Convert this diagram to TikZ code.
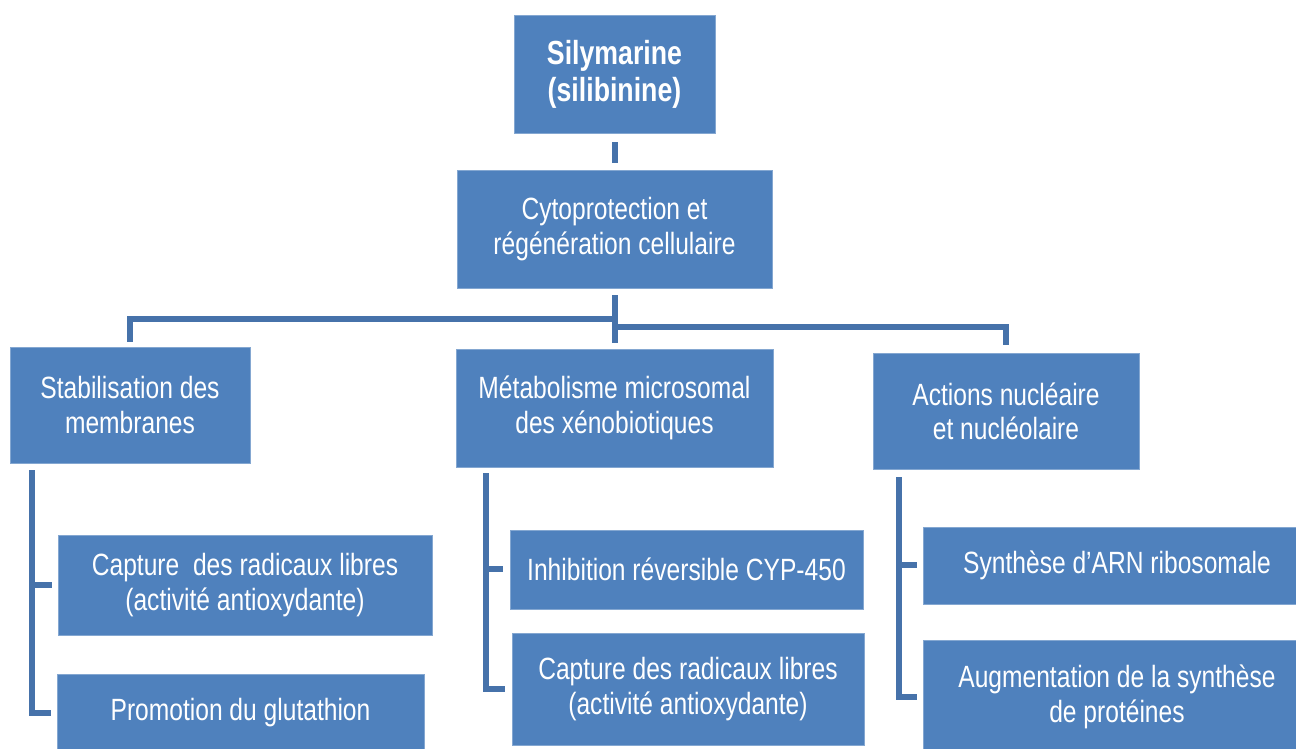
\documentclass[tikz,border=0pt]{standalone}
\usepackage{fontspec}
\setmainfont{Liberation Sans}[FakeStretch=0.8]
\definecolor{boxblue}{HTML}{4F81BD}
\definecolor{lineblue}{HTML}{4672AA}
\begin{document}
\begin{tikzpicture}[x = 0.02cm, y = -0.02cm,
    box/.style = {draw = boxblue!70!white, line width = 0.5pt, fill = boxblue, text = white,
                  align = center, inner sep = 0pt, font = \fontsize{17.5}{19.5}\selectfont},
    link/.style = {draw = lineblue, line width = 0.12cm}]
            \clip (0, 0) rectangle (1296, 749);
            % top of the tree
            \node [box, minimum width = 4.02cm, minimum height = 2.36cm,
                   font = \bfseries\fontsize{19}{21}\selectfont] (sily) at (614.5, 74) {Silymarine\\(silibinine)};
            \node [box, minimum width = 6.3cm, minimum height = 2.36cm] (cyto) at (614.5, 229) {Cytoprotection et\\régénération cellulaire};
            % three branches
            \node [box, minimum width = 4.8cm, minimum height = 2.32cm] (stab) at (130, 405) {Stabilisation des\\membranes};
            \node [box, minimum width = 6.34cm, minimum height = 2.36cm] (meta) at (614.5, 408) {Métabolisme microsomal\\des xénobiotiques};
            \node [box, minimum width = 5.32cm, minimum height = 2.32cm] (nucl) at (1006, 411) {Actions nucléaire\\et nucléolaire};
            % leaves
            \node [box, minimum width = 7.48cm, minimum height = 2.0cm] (radA) at (245, 585) {Capture\ \ des radicaux libres\\(activité antioxydante)};
            \node [box, minimum width = 7.34cm, minimum height = 1.56cm] (glut) at (240.5, 713) {Promotion du glutathion};
            \node [box, minimum width = 7.06cm, minimum height = 1.58cm] (cyp) at (686.5, 569.5) {Inhibition réversible CYP-450};
            \node [box, minimum width = 7.04cm, minimum height = 2.24cm] (radB) at (688, 689) {Capture des radicaux libres\\(activité antioxydante)};
            \node [box, minimum width = 7.76cm, minimum height = 1.54cm] (arn) at (1117, 565.5) {Synthèse d’ARN ribosomale};
            \node [box, minimum width = 7.76cm, minimum height = 2.28cm] (prot) at (1117, 697) {Augmentation de la synthèse\\de protéines};
            % connectors
            \coordinate (hubl) at (614.5, 319);
            \coordinate (hubr) at (614.5, 327);
            \draw [link] ([yshift = -0.18cm]sily.south) -- ([yshift = 0.14cm]cyto.north);
            \draw [link] ([yshift = -0.14cm]cyto.south) -- ([yshift = 0.12cm]meta.north);
            \draw [link] (hubl) -| ([yshift = 0.1cm]stab.north);
            \draw [link] (hubr) -| ([yshift = 0.16cm]nucl.north);
            \coordinate (stabv) at ([xshift = 0.44cm, yshift = -0.14cm]stab.south west);
            \coordinate (metav) at ([xshift = 0.6cm, yshift = -0.12cm]meta.south west);
            \coordinate (nuclv) at ([xshift = 0.52cm, yshift = -0.16cm]nucl.south west);
            \draw [link] (stabv) |- ([xshift = -0.12cm]radA.west);
            \draw [link] (stabv) |- ([xshift = -0.12cm]glut.west);
            \draw [link] (metav) |- ([xshift = -0.14cm]cyp.west);
            \draw [link] (metav) |- ([xshift = -0.14cm]radB.west);
            \draw [link] (nuclv) |- ([xshift = -0.12cm]arn.west);
            \draw [link] (nuclv) |- ([xshift = -0.12cm]prot.west);
        \end{tikzpicture}
\end{document}
